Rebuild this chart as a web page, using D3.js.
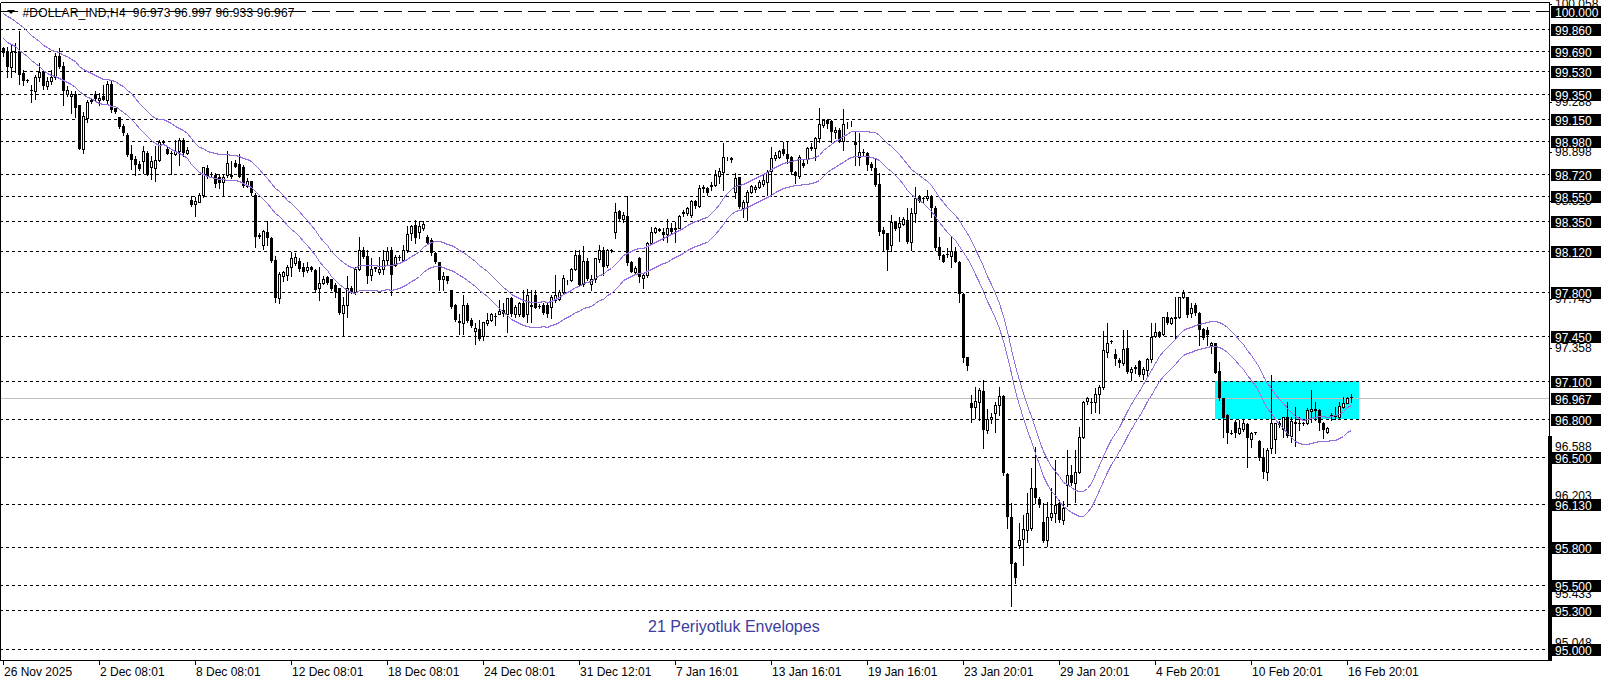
<!DOCTYPE html>
<html><head><meta charset="utf-8">
<script src="https://cdn.jsdelivr.net/npm/d3@7"></script>
<style>
html,body{margin:0;padding:0;background:#fff;overflow:hidden}
svg{display:block}
text{font-family:"Liberation Sans",Arial,sans-serif}
</style></head><body>
<svg id="c" width="1606" height="684"></svg>
<script>
const titleText = "#DOLLAR_IND,H4  96.973 96.997 96.933 96.967";
const indicatorText = "21 Periyotluk Envelopes";

const open = [
99.71,99.68,99.56,99.68,99.68,99.51,99.46,99.38,99.37,99.48,
99.52,99.41,99.45,99.48,99.65,99.57,99.35,99.33,99.35,99.26,
98.92,99.16,99.30,99.35,99.30,99.33,99.30,99.43,99.24,99.17,
99.10,99.03,98.88,98.84,98.80,98.82,98.89,98.78,98.77,98.83,
98.97,98.92,98.89,98.88,98.90,98.99,98.89,98.52,98.49,98.50,
98.56,98.77,98.72,98.71,98.70,98.66,98.71,98.71,98.81,98.80,
98.78,98.63,98.67,98.56,98.24,98.165,98.27,98.22,98.05,97.75,
97.92,97.93,97.995,98.02,98.04,97.99,97.97,97.99,97.97,97.825,
97.865,97.91,97.895,97.85,97.825,97.635,97.695,97.825,97.80,97.98,
98.125,98.08,97.93,97.99,97.95,97.98,98.05,98.125,98.01,98.07,
98.05,98.125,98.26,98.32,98.27,98.30,98.23,98.20,98.105,98.03,
97.90,97.92,97.81,97.695,97.57,97.55,97.695,97.58,97.49,97.506,
97.45,97.55,97.58,97.61,97.62,97.655,97.62,97.75,97.62,97.62,
97.71,97.62,97.695,97.77,97.69,97.695,97.695,97.68,97.73,97.741,
97.793,97.872,97.89,97.976,98.086,97.856,98.039,97.856,97.898,98.055,
98.125,98.008,98.125,98.264,98.431,98.368,98.392,98.029,97.956,98.065,
97.908,97.929,98.178,98.264,98.282,98.269,98.248,98.30,98.29,98.30,
98.426,98.413,98.40,98.51,98.473,98.609,98.614,98.63,98.635,98.708,
98.74,98.844,98.839,98.583,98.70,98.452,98.499,98.583,98.604,98.622,
98.64,98.661,98.745,98.844,98.857,98.917,98.876,98.857,98.74,98.708,
98.805,98.839,98.923,98.923,99.006,99.106,99.145,99.137,99.048,99.066,
98.98,99.111,99.119,98.975,98.857,98.897,98.889,98.80,98.766,98.643,
98.282,98.256,98.165,98.348,98.303,98.33,98.361,98.191,98.413,98.539,
98.531,98.531,98.549,98.452,98.146,98.086,98.094,98.078,98.12,98.034,
97.781,97.284,96.923,96.897,96.936,97.022,96.714,96.797,96.85,96.91,
96.98,96.369,96.034,95.668,95.812,95.856,95.93,95.943,96.256,96.17,
95.995,95.851,96.029,96.06,96.139,96.01,96.283,96.361,96.296,96.387,
96.662,96.944,96.936,96.936,96.996,97.049,97.329,97.412,97.31,97.263,
97.237,97.355,97.172,97.21,97.255,97.153,97.185,97.268,97.451,97.48,
97.467,97.603,97.556,97.59,97.603,97.754,97.754,97.629,97.694,97.629,
97.503,97.498,97.38,97.393,97.179,96.962,96.831,96.693,96.779,96.693,
96.719,96.761,96.64,96.695,96.63,96.504,96.387,96.57,96.64,96.761,
96.719,96.818,96.666,96.779,96.771,96.771,96.766,96.865,96.876,96.87,
96.771,96.70,96.831,96.823,96.813,96.897,96.928,96.973];

const high = [
99.72,99.72,99.73,99.75,99.84,99.54,99.47,99.42,99.50,99.59,
99.54,99.48,99.54,99.67,99.71,99.60,99.41,99.37,99.37,99.26,
99.21,99.30,99.31,99.37,99.36,99.42,99.45,99.45,99.24,99.17,
99.11,99.04,98.95,98.86,98.82,98.94,98.90,98.86,98.94,98.99,
98.99,98.94,98.90,98.99,99.00,99.00,98.93,98.55,98.54,98.57,
98.78,98.79,98.74,98.73,98.72,98.72,98.90,98.82,98.83,98.88,
98.79,98.69,98.67,98.57,98.26,98.28,98.35,98.225,98.08,97.955,
97.96,98.01,98.11,98.10,98.06,98.02,98.03,98.00,97.98,97.995,
97.92,97.92,97.90,97.865,97.83,97.76,97.92,97.84,97.995,98.225,
98.15,98.125,98.06,97.995,98.07,98.125,98.15,98.15,98.09,98.09,
98.165,98.31,98.32,98.36,98.35,98.35,98.24,98.22,98.11,98.03,
97.95,97.92,97.81,97.70,97.62,97.77,97.71,97.59,97.55,97.58,
97.56,97.63,97.63,97.63,97.73,97.71,97.75,97.76,97.695,97.72,
97.81,97.82,97.81,97.81,97.70,97.71,97.71,97.77,97.93,97.812,
97.929,97.89,97.987,98.125,98.125,98.159,98.06,97.929,98.065,98.165,
98.151,98.133,98.133,98.491,98.439,98.426,98.552,98.039,98.002,98.073,
97.942,98.191,98.308,98.308,98.30,98.30,98.368,98.334,98.348,98.40,
98.439,98.465,98.518,98.518,98.635,98.635,98.622,98.661,98.753,98.771,
98.962,98.857,98.857,98.727,98.70,98.518,98.596,98.635,98.635,98.674,
98.714,98.753,98.936,98.897,98.91,98.975,98.975,98.863,98.745,98.87,
98.831,98.936,98.962,99.014,99.236,99.153,99.153,99.145,99.093,99.08,
99.231,99.132,99.137,99.053,99.041,98.92,98.897,98.818,98.845,98.732,
98.309,98.261,98.40,98.356,98.387,98.387,98.452,98.452,98.617,98.557,
98.544,98.596,98.557,98.471,98.23,98.094,98.139,98.23,98.152,98.04,
97.786,97.289,96.988,97.048,97.04,97.106,96.876,96.845,96.936,97.053,
96.988,96.374,96.139,95.681,95.982,96.047,96.222,96.413,96.583,96.191,
96.139,96.152,96.256,96.478,96.165,96.16,96.557,96.44,96.557,96.74,
96.944,96.976,96.962,97.041,97.067,97.493,97.55,97.42,97.347,97.276,
97.50,97.50,97.21,97.224,97.263,97.21,97.276,97.55,97.55,97.493,
97.603,97.642,97.603,97.755,97.76,97.81,97.76,97.707,97.707,97.642,
97.51,97.524,97.406,97.393,97.25,96.962,96.839,96.714,96.792,96.792,
96.792,96.766,96.70,96.70,96.635,96.57,96.57,97.145,96.771,96.787,
96.818,96.936,96.818,96.897,96.818,96.779,96.883,97.027,96.936,96.876,
96.779,96.74,96.844,96.897,96.936,96.975,96.975,96.997];

const low = [
99.65,99.48,99.48,99.52,99.43,99.42,99.44,99.29,99.31,99.45,
99.39,99.39,99.43,99.47,99.55,99.26,99.33,99.20,99.17,98.92,
98.89,99.13,99.28,99.30,99.26,99.30,99.28,99.21,99.20,99.08,
99.03,98.86,98.76,98.71,98.75,98.73,98.71,98.68,98.67,98.82,
98.96,98.88,98.72,98.87,98.79,98.86,98.88,98.47,98.39,98.50,
98.54,98.69,98.70,98.62,98.61,98.55,98.70,98.69,98.78,98.70,
98.62,98.62,98.56,98.15,98.22,98.13,98.165,98.03,97.72,97.71,
97.88,97.89,97.92,98.01,97.96,97.92,97.95,97.96,97.80,97.73,
97.86,97.86,97.81,97.76,97.62,97.45,97.60,97.79,97.78,97.97,
98.06,97.865,97.89,97.96,97.94,97.94,98.01,97.77,98.00,98.05,
98.04,98.11,98.20,98.18,98.22,98.28,98.17,98.09,98.02,97.81,
97.81,97.87,97.67,97.57,97.47,97.47,97.56,97.52,97.39,97.42,
97.42,97.54,97.57,97.54,97.62,97.61,97.485,97.61,97.60,97.61,
97.60,97.56,97.56,97.67,97.67,97.62,97.60,97.59,97.72,97.733,
97.785,97.856,97.882,97.969,97.846,97.846,97.89,97.812,97.877,98.034,
97.929,97.995,98.112,98.217,98.361,98.348,98.008,97.95,97.942,97.877,
97.83,97.916,98.17,98.256,98.274,98.204,98.191,98.256,98.191,98.295,
98.395,98.40,98.387,98.457,98.465,98.583,98.557,98.596,98.63,98.648,
98.596,98.831,98.813,98.531,98.452,98.387,98.361,98.57,98.583,98.609,
98.63,98.557,98.552,98.831,98.844,98.87,98.805,98.719,98.648,98.693,
98.779,98.805,98.91,98.831,98.975,99.093,99.08,98.975,99.001,98.97,
98.91,99.085,99.10,98.792,98.792,98.87,98.753,98.753,98.627,98.243,
98.126,97.969,98.12,98.282,98.199,98.322,98.178,98.126,98.348,98.505,
98.492,98.518,98.387,98.126,98.052,98.029,98.073,97.995,98.029,97.72,
97.25,97.184,96.779,96.805,96.792,96.57,96.688,96.766,96.701,96.832,
96.361,95.943,95.33,95.511,95.786,95.655,95.838,95.93,96.139,96.113,
95.838,95.804,96.008,95.995,95.995,95.98,96.12,96.283,96.15,96.374,
96.649,96.918,96.85,96.858,96.85,97.033,97.284,97.394,97.224,97.21,
97.224,97.164,97.106,97.159,97.138,97.111,97.145,97.25,97.446,97.446,
97.459,97.545,97.545,97.425,97.59,97.746,97.60,97.60,97.615,97.38,
97.425,97.38,97.315,97.158,96.949,96.661,96.609,96.682,96.661,96.682,
96.708,96.426,96.583,96.682,96.478,96.334,96.321,96.531,96.531,96.74,
96.661,96.661,96.622,96.588,96.714,96.753,96.761,96.779,96.792,96.714,
96.648,96.687,96.792,96.797,96.805,96.883,96.923,96.933];

const close = [
99.67,99.56,99.68,99.67,99.50,99.45,99.45,99.37,99.48,99.52,
99.41,99.45,99.48,99.65,99.56,99.37,99.38,99.35,99.24,98.92,
99.18,99.29,99.29,99.31,99.32,99.30,99.43,99.22,99.21,99.09,
99.04,98.87,98.83,98.79,98.76,98.90,98.71,98.82,98.83,98.97,
98.98,98.88,98.88,98.90,98.99,98.89,98.91,98.48,98.51,98.56,
98.78,98.70,98.71,98.64,98.65,98.70,98.81,98.70,98.78,98.70,
98.63,98.67,98.57,98.225,98.23,98.275,98.22,98.04,97.75,97.935,
97.95,97.995,98.06,98.07,97.98,97.955,97.995,97.97,97.81,97.865,
97.90,97.87,97.82,97.80,97.635,97.695,97.825,97.80,97.98,98.125,
98.07,97.92,97.98,97.98,97.98,98.05,98.12,97.93,98.07,98.06,
98.125,98.25,98.31,98.22,98.31,98.33,98.18,98.105,98.03,97.89,
97.92,97.88,97.68,97.58,97.55,97.695,97.57,97.53,97.51,97.43,
97.56,97.58,97.62,97.60,97.65,97.62,97.75,97.62,97.68,97.71,
97.60,97.77,97.68,97.67,97.68,97.63,97.62,97.755,97.77,97.798,
97.908,97.877,97.976,98.086,97.851,98.039,97.898,97.898,98.06,98.125,
97.995,98.125,98.122,98.426,98.368,98.40,98.021,97.956,97.987,97.916,
97.929,98.178,98.269,98.295,98.29,98.243,98.30,98.269,98.30,98.395,
98.405,98.452,98.51,98.473,98.609,98.622,98.57,98.635,98.714,98.745,
98.857,98.846,98.844,98.693,98.465,98.505,98.583,98.63,98.622,98.656,
98.674,98.74,98.85,98.87,98.902,98.876,98.839,98.734,98.708,98.857,
98.787,98.923,98.936,99.006,99.111,99.145,99.111,99.048,99.066,98.975,
99.111,99.114,99.122,98.949,98.897,98.884,98.792,98.766,98.635,98.27,
98.251,98.126,98.348,98.288,98.34,98.366,98.191,98.413,98.531,98.513,
98.523,98.549,98.452,98.139,98.078,98.034,98.086,98.12,98.034,97.781,
97.276,97.216,96.884,96.941,97.027,96.714,96.797,96.818,96.91,96.98,
96.374,96.034,95.663,95.55,95.851,95.935,96.06,96.256,96.178,96.126,
95.846,96.034,96.06,96.126,96.008,96.10,96.361,96.296,96.387,96.662,
96.936,96.962,96.923,96.996,97.054,97.342,97.399,97.402,97.268,97.242,
97.347,97.172,97.19,97.19,97.145,97.19,97.268,97.446,97.48,97.451,
97.598,97.556,97.59,97.603,97.755,97.785,97.615,97.668,97.629,97.498,
97.433,97.459,97.398,97.163,96.962,96.805,96.687,96.69,96.687,96.727,
96.771,96.648,96.693,96.687,96.491,96.387,96.557,96.766,96.766,96.771,
96.813,96.666,96.787,96.761,96.761,96.761,96.87,96.876,96.865,96.771,
96.714,96.727,96.828,96.813,96.902,96.928,96.962,96.967];

// closes of the 20 bars before the first visible bar (feed the 21-period average at the left edge)
const priorClose = [100.10,100.06,100.08,100.02,99.98,100.04,100.01,99.97,100.05,100.02,
                    99.90,99.84,99.86,99.78,99.74,99.70,99.72,99.66,99.70,99.69];
const envPeriod = 21;
const envDeviationPct = 0.1;

const levelPrices = [100.000,99.860,99.690,99.530,99.350,99.150,98.980,98.720,98.550,98.350,
                     98.120,97.800,97.450,97.100,96.800,96.500,96.130,95.800,95.500,95.300,95.000];
const longDashLevel = 100.000;
const bidPrice = 96.967;
const scaleTicks = [100.058,99.288,98.898,98.513,97.743,97.358,96.588,96.203,95.433,95.048];
const zoneBars = [303, 339];
const zonePrices = [97.10, 96.80];
const timeTickBars = [0,24,48,72,96,120,144,168,192,216,240,264,288,312,336];
const timeTickLabels = ["26 Nov 2025","2 Dec 08:01","8 Dec 08:01","12 Dec 08:01","18 Dec 08:01","24 Dec 08:01",
  "31 Dec 12:01","7 Jan 16:01","13 Jan 16:01","19 Jan 16:01","23 Jan 20:01","29 Jan 20:01","4 Feb 20:01",
  "10 Feb 20:01","16 Feb 20:01"];

// ---------- layout ----------
const W = 1606, H = 684;
const plotR = 1549, plotT = 2.5, plotB = 660;
const svg = d3.select("#c");
const y = d3.scaleLinear().domain([95, 100]).range([648.5, 11]);
const x = d3.scaleLinear().domain([0, 1]).range([3, 7]);
const fmt = d3.format(".3f");
const ry = v => Math.round(y(v));

svg.append("rect").attr("width", W).attr("height", H).attr("fill", "#fff");

svg.append("defs").append("clipPath").attr("id","pc")
  .append("rect").attr("x",0).attr("y",0).attr("width",plotR).attr("height",plotB);
const plot = svg.append("g").attr("clip-path","url(#pc)");

// zone
plot.append("rect")
  .attr("x", x(zoneBars[0])).attr("width", x(zoneBars[1]) - x(zoneBars[0]))
  .attr("y", ry(zonePrices[0])).attr("height", ry(zonePrices[1]) - ry(zonePrices[0]))
  .attr("fill", "#00FFFF");

// levels
plot.selectAll("line.lv").data(levelPrices).join("line")
  .attr("x1", 0).attr("x2", plotR)
  .attr("y1", d => ry(d) + 0.5).attr("y2", d => ry(d) + 0.5)
  .attr("stroke", "#000").attr("stroke-width", 1)
  .attr("stroke-dasharray", d => d === longDashLevel ? "18,6" : "3,3")
  .attr("shape-rendering", "crispEdges");

// bid line
plot.append("line").attr("x1", 0).attr("x2", plotR)
  .attr("y1", ry(bidPrice) + 0.5).attr("y2", ry(bidPrice) + 0.5)
  .attr("stroke", "#C0C0C0").attr("shape-rendering", "crispEdges");

// candles
const idx = d3.range(close.length);
const cg = plot.append("g").attr("shape-rendering", "crispEdges");
cg.selectAll("line.w").data(idx).join("line")
  .attr("x1", i => x(i) + 0.5).attr("x2", i => x(i) + 0.5)
  .attr("y1", i => ry(high[i])).attr("y2", i => ry(low[i]) + 1)
  .attr("stroke", "#000");
cg.selectAll("rect.b").data(idx).join("rect")
  .each(function(i) {
    const up = close[i] >= open[i];
    const t = ry(Math.max(open[i], close[i])), b = ry(Math.min(open[i], close[i]));
    const s = d3.select(this);
    if (up) {
      s.attr("x", x(i) - 0.5).attr("y", t + 0.5).attr("width", 2).attr("height", Math.max(b - t, 0))
       .attr("fill", "#fff").attr("stroke", "#000").attr("stroke-width", 1);
    } else {
      s.attr("x", x(i) - 1).attr("y", t).attr("width", 3).attr("height", Math.max(b - t, 1))
       .attr("fill", "#000");
    }
  });

// envelopes (21-period SMA of close, +/- 0.1 %)
const allClose = priorClose.concat(close);
const ma = idx.map(i => d3.mean(allClose.slice(i + priorClose.length - envPeriod + 1, i + priorClose.length + 1)));
const upper = ma.map(v => v * (1 + envDeviationPct / 100));
const lower = ma.map(v => v * (1 - envDeviationPct / 100));
const ln = arr => d3.line().x((d, i) => x(i) + 0.5).y(d => Math.round(y(d)) + 0.5)(arr);
[upper, lower].forEach(a => plot.append("path").attr("d", ln(a))
  .attr("fill", "none").attr("stroke", "#9370DB").attr("stroke-width", 1)
  .attr("shape-rendering", "crispEdges"));

// frame
svg.append("path").attr("d", `M0.5,${plotT}V${plotB + 0.5}H${plotR + 0.5}V${plotT}H0.5`)
  .attr("fill", "none").attr("stroke", "#000").attr("shape-rendering", "crispEdges");
svg.append("rect").attr("x", 1548).attr("y", 436).attr("width", 4).attr("height", plotB - 436 + 1).attr("fill", "#000");

// time axis
svg.selectAll("line.tt").data(timeTickBars).join("line")
  .attr("x1", d => x(d) + 0.5).attr("x2", d => x(d) + 0.5)
  .attr("y1", plotB).attr("y2", plotB + 5).attr("stroke", "#000").attr("shape-rendering", "crispEdges");
svg.selectAll("text.tl").data(timeTickBars).join("text")
  .attr("x", d => x(d) + 1).attr("y", 676).attr("font-size", 12).attr("fill", "#000")
  .text((d, i) => timeTickLabels[i]);

// price scale labels
svg.selectAll("line.st").data(scaleTicks).join("line")
  .attr("x1", plotR).attr("x2", plotR + 3).attr("y1", d => ry(d) + 0.5).attr("y2", d => ry(d) + 0.5)
  .attr("stroke", "#000").attr("shape-rendering", "crispEdges");
svg.selectAll("text.sl").data(scaleTicks).join("text")
  .attr("x", 1555).attr("y", d => y(d) + 4.5).attr("font-size", 12).attr("fill", "#000")
  .text(d => fmt(d));

// level label boxes
const boxes = levelPrices.concat([bidPrice]);
const bg = svg.append("g");
boxes.forEach(p => {
  const yy = ry(p);
  bg.append("rect").attr("x", 1551).attr("y", yy - 5).attr("width", 50).attr("height", 12)
    .attr("fill", "#000").attr("shape-rendering", "crispEdges");
  bg.append("text").attr("x", 1555).attr("y", yy + 5.5).attr("font-size", 12).attr("fill", "#fff")
    .text(fmt(p));
});

// header
svg.append("path").attr("d", "M7,10H15L11,14Z").attr("fill", "#000");
svg.append("text").attr("x", 22.5).attr("y", 17).attr("font-size", 12).attr("fill", "#000")
  .attr("textLength", 272).attr("lengthAdjust", "spacing")
  .style("white-space", "pre").text(titleText);

// indicator caption
svg.append("text").attr("x", 648).attr("y", 632).attr("font-size", 16).attr("fill", "#3C3C9C")
  .text(indicatorText);
</script>
</body></html>
